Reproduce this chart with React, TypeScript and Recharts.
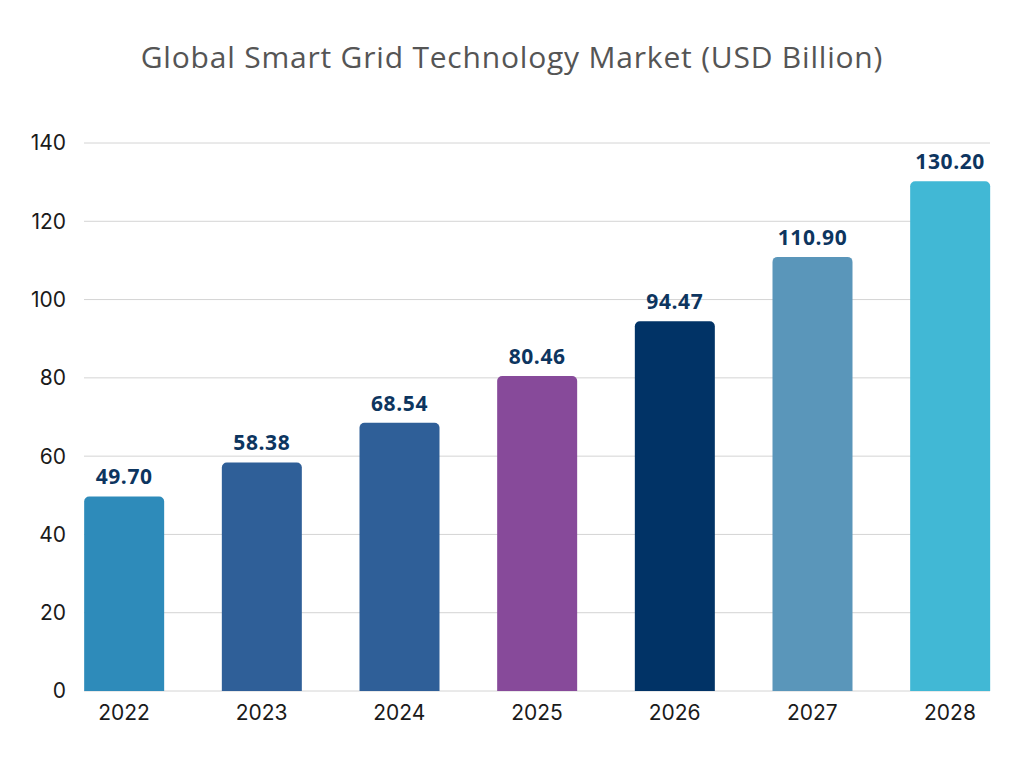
import { BarChart, Bar, XAxis, YAxis, CartesianGrid, LabelList, Cell } from "recharts";

const years = ["2022", "2023", "2024", "2025", "2026", "2027", "2028"];
const marketSize = [49.7, 58.38, 68.54, 80.46, 94.47, 110.9, 130.2];
const barColors = ["#2E8BBA", "#2F5F98", "#2F5F98", "#874A9A", "#013366", "#5A96BA", "#41B8D5"];
const yTicks = [0, 20, 40, 60, 80, 100, 120, 140];

const data = years.map((year, i) => ({ year, value: marketSize[i] }));

const TICK = { fontSize: 21, fill: "#1a1a1a", fontFamily: "Inter, sans-serif" };

export default function App() {
  return (
    <div style={{ position: "absolute", left: 0, top: 0, width: 1024, height: 768, background: "#fff" }}>
      <div
        style={{
          position: "absolute",
          top: 37,
          left: 0,
          width: 1024,
          textAlign: "center",
          fontFamily: "'Open Sans', sans-serif",
          fontSize: 30,
          fontWeight: 500,
          letterSpacing: 0.8,
          color: "#555555",
          lineHeight: "40px",
        }}
      >
        Global Smart Grid Technology Market (USD Billion)
      </div>
      <BarChart
        width={1024}
        height={768}
        data={data}
        margin={{ top: 143, right: 34, left: 0, bottom: 0 }}
      >
        <CartesianGrid vertical={false} stroke="#d4d4d4" />
        <XAxis
          dataKey="year"
          scale="point"
          padding={{ left: 40, right: 40 }}
          height={77}
          axisLine={false}
          tickLine={false}
          tickMargin={8}
          tick={TICK}
        />
        <YAxis
          width={84}
          domain={[0, 140]}
          ticks={yTicks}
          axisLine={false}
          tickLine={false}
          tickMargin={12}
          tick={TICK}
        />
        <Bar dataKey="value" barSize={80} radius={[5, 5, 0, 0]} isAnimationActive={false}>
          {data.map((d, i) => (
            <Cell key={d.year} fill={barColors[i]} />
          ))}
          <LabelList
            dataKey="value"
            position="top"
            offset={12}
            formatter={(v: number) => Number(v).toFixed(2)}
            style={{ fontSize: 21, fontWeight: 700, letterSpacing: 0.6, fill: "#0d355f", fontFamily: "'Open Sans', sans-serif" }}
          />
        </Bar>
      </BarChart>
    </div>
  );
}
